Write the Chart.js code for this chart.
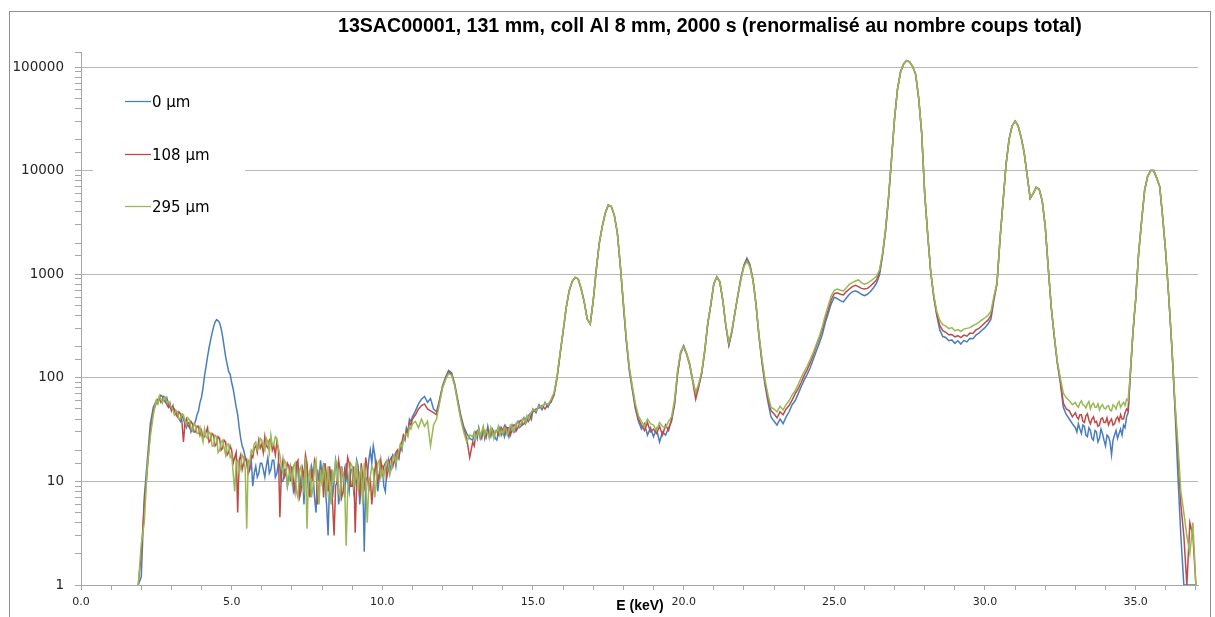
<!DOCTYPE html>
<html>
<head>
<meta charset="utf-8">
<script src="https://cdn.jsdelivr.net/npm/chart.js@4.4.0/dist/chart.umd.min.js"></script>
<style>
  html, body { margin: 0; padding: 0; background: #ffffff; }
  #wrap { width: 1215px; height: 617px; position: relative; }
</style>
</head>
<body>
<div id="wrap"><canvas id="c" width="1215" height="617"></canvas></div>
<script>
// ---- DATA ----
const chartTitle = '13SAC00001, 131 mm, coll Al 8 mm, 2000 s (renormalisé au nombre coups total)';
const xAxisTitle = 'E (keV)';
const seriesNames = ['0 µm', '108 µm', '295 µm'];

const energies = [
  1.9,
  2.0,2.1,2.2,2.3,2.4,2.5,2.55,2.6,2.65,2.7,2.75,2.8,2.85,2.9,2.95,
  3.0,3.05,3.1,3.15,3.2,3.25,3.3,3.35,3.4,3.45,3.5,3.55,3.6,3.65,3.7,3.75,3.8,3.85,3.9,3.95,
  4.0,4.05,4.1,4.15,4.2,4.25,4.3,4.35,4.4,4.45,4.5,4.55,4.6,4.65,4.7,4.75,4.8,4.85,4.9,4.95,
  5.0,5.05,5.1,5.15,5.2,5.25,5.3,5.35,5.4,5.45,5.5,5.55,5.6,5.65,5.7,5.75,5.8,5.85,5.9,5.95,
  6.0,6.05,6.1,6.15,6.2,6.25,6.3,6.35,6.4,6.45,6.5,6.55,6.6,6.65,6.7,6.75,6.8,6.85,6.9,6.95,
  7.0,7.05,7.1,7.15,7.2,7.25,7.3,7.35,7.4,7.45,7.5,7.55,7.6,7.65,7.7,7.75,7.8,7.85,7.9,7.95,
  8.0,8.05,8.1,8.15,8.2,8.25,8.3,8.35,8.4,8.45,8.5,8.55,8.6,8.65,8.7,8.75,8.8,8.85,8.9,8.95,
  9.0,9.05,9.1,9.15,9.2,9.25,9.3,9.35,9.4,9.45,9.5,9.55,9.6,9.65,9.7,9.75,9.8,9.85,9.9,9.95,
  10.0,10.05,10.1,10.15,10.2,10.25,10.3,10.35,10.4,10.45,10.5,10.55,10.6,10.65,10.7,10.75,10.8,10.85,10.9,10.95,
  11.0,11.1,11.2,11.3,11.4,11.5,11.6,11.7,11.8,11.9,
  12.0,12.1,12.2,12.3,12.4,12.5,12.6,12.7,12.8,12.9,
  13.0,13.05,13.1,13.15,13.2,13.25,13.3,13.35,13.4,13.45,13.5,13.55,13.6,13.65,13.7,13.75,13.8,13.85,13.9,13.95,
  14.0,14.05,14.1,14.15,14.2,14.25,14.3,14.35,14.4,14.45,14.5,14.55,14.6,14.65,14.7,14.75,14.8,14.85,14.9,14.95,
  15.0,15.1,15.2,15.3,15.4,15.5,15.6,15.7,15.8,15.9,
  16.0,16.1,16.2,16.3,16.4,16.5,16.6,16.7,16.8,16.9,
  17.0,17.1,17.2,17.3,17.4,17.5,17.6,17.7,17.8,17.9,
  18.0,18.1,18.2,18.3,18.4,18.5,18.6,18.7,18.8,18.9,
  19.0,19.1,19.2,19.3,19.4,19.5,19.6,19.7,19.8,19.9,
  20.0,20.1,20.2,20.3,20.4,20.5,20.6,20.7,20.8,20.9,
  21.0,21.1,21.2,21.3,21.4,21.5,21.6,21.7,21.8,21.9,
  22.0,22.1,22.2,22.3,22.4,22.5,22.6,22.7,22.8,22.9,
  23.0,23.1,23.2,23.3,23.4,23.5,23.6,23.7,23.8,23.9,
  24.0,24.1,24.2,24.3,24.4,24.5,24.6,24.7,24.8,24.9,
  25.0,25.1,25.2,25.3,25.4,25.5,25.6,25.7,25.8,25.9,
  26.0,26.1,26.2,26.3,26.4,26.5,26.6,26.7,26.8,26.9,
  27.0,27.1,27.2,27.3,27.4,27.5,27.6,27.7,27.8,27.9,
  28.0,28.1,28.2,28.3,28.4,28.5,28.6,28.7,28.8,28.9,
  29.0,29.1,29.2,29.3,29.4,29.5,29.6,29.7,29.8,29.9,
  30.0,30.1,30.2,30.3,30.4,30.5,30.6,30.7,30.8,30.9,
  31.0,31.1,31.2,31.3,31.4,31.5,31.6,31.7,31.8,31.9,
  32.0,32.1,32.2,32.3,32.4,32.5,32.6,32.7,32.8,32.9,
  33.0,33.05,33.1,33.15,33.2,33.25,33.3,33.35,33.4,33.45,33.5,33.55,33.6,33.65,33.7,33.75,33.8,33.85,33.9,33.95,
  34.0,34.05,34.1,34.15,34.2,34.25,34.3,34.35,34.4,34.45,34.5,34.55,34.6,34.65,34.7,34.75,34.8,34.85,34.9,34.95,
  35.0,35.1,35.2,35.3,35.4,35.5,35.6,35.7,35.8,35.9,
  36.0,36.1,36.2,36.3,36.4,36.5,36.6,36.7,36.8,36.9,
  37.0
];

const counts0um = [
  1,
  1.2,7,16,36,52,60,57,63,68,66,61,58,64,56,52,
  50,54,45,48,44,40,38,43,40,36,33,37,36,30,32,35,38,44,48,58,
  65,80,105,128,160,195,230,270,310,345,365,355,340,300,250,200,160,135,115,108,
  90,78,64,52,44,33,26,22,20,17,15,12,13,16,9,12,14,11,12,15,
  15,13,11,14,17,12,13,16,16,11,12,15,14,10,10,13,13,9,11,14,
  12,8,9,15,14,7,11,13,6,16,13,8,10,14,12,7,5,13,10,16,
  11,15,9,6,3,10,13,7,10,16,13,6,8,14,11,7,15,10,8,13,
  13,8,10,16,14,6,9,12,2.1,10,11,16,20,15,22,18,12,8,11,15,
  14,9,8,13,16,12,15,18,17,14,19,17,22,20,27,25,33,30,40,38,
  42,48,56,62,66,58,63,50,47,62,
  84,102,118,112,88,62,44,34,29,26,
  25,29,30,26,33,28,26,31,31,27,34,29,27,32,30,26,25,30,33,28,
  30,27,34,31,27,32,35,30,30,36,38,33,34,39,41,36,38,43,45,40,
  50,46,55,49,58,52,60,68,100,168,
  280,470,690,850,930,900,720,540,370,330,
  560,1100,2000,2900,3900,4650,4500,3700,2500,1200,
  500,220,115,75,50,38,32,36,28,33,
  27,32,24,30,28,33,38,55,110,172,
  205,172,138,96,70,84,110,180,330,500,
  800,945,850,555,315,205,275,420,630,920,
  1230,1430,1240,900,520,250,140,85,58,42,
  38,35,40,36,42,47,55,60,70,82,
  95,108,125,150,180,215,260,340,420,520,
  600,580,555,540,590,640,675,690,670,640,
  620,640,680,740,820,980,1500,2600,5400,13000,
  32000,62000,90000,107000,115000,112000,101000,85000,50000,23000,
  6000,2400,1050,600,400,290,250,245,228,232,
  215,228,212,230,222,240,238,258,270,288,
  305,330,370,570,810,2200,5000,11500,20000,27000,
  30000,27000,21000,15000,9000,5400,6000,6900,6600,5100,
  2900,1150,480,250,140,90,52,44,40,36,
  33,30,36,32,29,35,34,28,27,33,31,26,25,31,30,24,26,32,29,25,
  22,28,27,24,18,25,28,31,26,29,32,28,35,33,42,46,80,140,240,380,
  560,1600,3300,6500,8800,10000,10000,8500,7000,3500,
  1600,600,200,55,12,3,1,1,1,1,
  1
];

const counts108um = [
  1,
  2,6,13,30,48,57,62,64,58,60,66,63,55,52,57,
  48,52,50,44,42,47,45,38,24,36,40,35,33,38,36,30,30,34,34,28,
  31,26,27,30,33,24,25,29,28,22,23,27,26,20,21,25,24,18,19,22,
  20,15,17,19,5,16,18,13,15,17,16,12,13,18,17,21,22,19,25,21,
  23,19,27,22,21,25,26,20,22,18,24,20,4.5,12,16,11,12,15,14,10,
  14,10,8,15,16,7,8,13,11,18,15,9,7,13,10,16,14,6,9,13,
  13,7,15,11,8,14,10,6,3,9,10,16,13,7,8,13,11,17,15,9,
  9,14,3.2,10,13,7,15,11,9,17,13,8,11,6,9,13,15,10,12,16,
  12,14,15,11,13,16,17,14,16,19,20,17,21,24,28,26,31,29,37,35,
  40,44,50,54,56,50,48,46,44,60,
  82,98,114,108,86,60,42,32,26,17,
  24,22,28,31,31,26,29,33,26,30,32,28,29,31,27,30,31,28,30,33,
  31,34,29,33,33,28,31,35,35,31,33,38,39,35,36,40,42,38,40,44,
  47,50,51,54,50,56,58,70,102,172,
  280,470,690,850,930,900,720,540,370,330,
  560,1100,2000,2900,3900,4650,4500,3700,2500,1200,
  520,230,120,80,52,40,35,31,37,30,
  32,29,34,28,35,31,40,58,112,175,
  200,168,132,92,62,82,112,182,335,505,
  805,940,845,560,320,210,280,420,620,900,
  1200,1380,1200,880,515,255,145,90,63,48,
  45,41,47,44,50,54,61,70,78,90,
  105,120,140,165,200,240,290,370,460,570,
  650,660,640,630,680,720,760,780,760,730,
  720,730,770,820,880,1050,1550,2650,5500,13000,
  32000,62000,90000,107000,115000,112000,101000,85000,50000,23000,
  6000,2400,1050,610,415,320,285,275,260,262,
  248,255,244,258,252,270,268,290,300,318,
  340,360,400,590,820,2200,5000,11500,20000,27000,
  30000,27000,21000,15000,9000,5400,6000,6900,6600,5100,
  2900,1150,480,250,140,95,57,50,48,42,
  46,42,40,44,44,38,37,43,45,39,36,40,42,37,38,34,35,40,41,37,
  37,41,35,38,40,35,36,40,42,38,44,40,40,46,50,48,84,145,245,385,
  560,1600,3300,6500,8800,10000,10000,8500,7000,3500,
  1600,600,205,58,20,6,3,1,4,3,
  1
];

const counts295um = [
  1,
  2.5,4,14,27,44,61,56,67,62,57,64,65,58,59,55,
  52,49,44,48,47,40,40,45,44,38,35,41,39,33,31,36,35,29,29,33,
  28,24,32,27,26,30,29,22,22,28,27,19,20,24,25,21,18,23,23,17,
  18,12,8,15,16,12,14,18,17,13,3.5,16,15,20,19,23,24,20,21,26,
  25,22,20,26,24,19,28,22,23,27,26,21,18,14,12,16,15,9,10,13,
  10,14,15,8,7,13,14,9,8,17,3.5,11,13,7,9,14,16,9,6,13,
  9,14,12,7,14,9,6,13,10,16,15,8,7,13,12,9,2.4,8,12,15,
  14,9,11,16,8,12,13,6,15,10,4,9,11,14,13,7,10,15,16,11,
  13,11,14,16,15,12,13,17,18,15,17,20,23,21,25,28,29,27,34,32,
  36,38,33,40,34,38,22,35,40,57,
  80,96,110,106,84,58,40,30,24,28,
  27,30,26,29,32,27,30,34,28,31,29,26,33,30,26,31,30,34,28,31,
  29,33,32,28,31,35,34,30,33,37,37,34,36,40,40,37,43,40,44,47,
  49,48,53,52,57,55,62,72,104,175,
  280,470,690,850,930,900,720,540,370,330,
  560,1100,2000,2900,3900,4650,4500,3700,2500,1200,
  530,235,125,82,56,43,38,34,40,36,
  35,31,37,34,33,38,42,62,118,180,
  198,170,135,94,72,88,115,185,340,510,
  810,935,850,565,325,220,285,425,615,890,
  1180,1330,1180,870,520,262,152,96,68,52,
  50,47,53,49,55,60,68,75,86,100,
  115,130,150,175,210,250,310,400,500,620,
  700,720,700,690,740,800,830,860,880,830,
  800,820,860,900,960,1100,1600,2700,5600,13000,
  32000,62000,90000,107000,115000,112000,101000,85000,50000,23000,
  6000,2400,1060,630,440,360,325,315,298,305,
  285,292,280,295,300,305,318,330,345,362,
  380,400,440,620,830,2200,5000,11500,20000,27000,
  30000,27000,21000,15000,9000,5400,6000,6900,6600,5100,
  2900,1150,480,255,145,100,71,64,60,55,
  58,54,52,57,60,55,54,51,56,59,50,55,57,52,52,56,49,53,55,51,
  50,53,54,49,48,55,53,50,56,59,52,55,58,54,62,60,90,150,250,390,
  560,1600,3300,6500,8800,10000,10000,8500,7000,3500,
  1600,610,210,62,24,8,5,3,2,4,
  1
];

const xTickStep = 1;      // minor tick every 1 keV
const xLabelEvery = 5;    // labels every 5 keV
// ---- END DATA ----

const colors = ['#4a7ebb', '#be4b48', '#98b954'];
const allSeries = [counts0um, counts108um, counts295um];

function isDecade(v) {
  const l = Math.log10(v);
  return Math.abs(l - Math.round(l)) < 1e-9;
}

const decorPlugin = {
  id: 'decor',
  beforeDraw(chart) {
    const ctx = chart.ctx;
    ctx.save();
    ctx.fillStyle = '#ffffff';
    ctx.fillRect(0, 0, chart.width, chart.height);
    ctx.strokeStyle = '#8f8f8f';
    ctx.lineWidth = 1;
    ctx.strokeRect(9.5, 11.5, 1201, 612);
    ctx.restore();
  },
  afterDraw(chart) {
    const ctx = chart.ctx;
    ctx.save();
    // Title
    ctx.fillStyle = '#000000';
    ctx.font = 'bold 20px "Liberation Sans", Arial, sans-serif';
    const w = ctx.measureText(chartTitle).width;
    const size = 20 * 744 / w;
    ctx.font = 'bold ' + size.toFixed(2) + 'px "Liberation Sans", Arial, sans-serif';
    ctx.textAlign = 'left';
    ctx.textBaseline = 'alphabetic';
    ctx.fillText(chartTitle, 338, 32);

    // X axis title
    ctx.font = 'bold 14px "Liberation Sans", Arial, sans-serif';
    ctx.textAlign = 'center';
    ctx.fillText(xAxisTitle, 640, 610);

    // Legend box
    ctx.fillStyle = '#ffffff';
    ctx.fillRect(93, 80, 152, 145);
    const ys = [101, 154, 206];
    ctx.font = '15px "DejaVu Sans", sans-serif';
    ctx.textAlign = 'left';
    for (let i = 0; i < 3; i++) {
      ctx.strokeStyle = colors[i];
      ctx.lineWidth = 1.3;
      ctx.beginPath();
      ctx.moveTo(125, ys[i] + 0.5);
      ctx.lineTo(151, ys[i] + 0.5);
      ctx.stroke();
      ctx.fillStyle = '#000000';
      ctx.fillText(seriesNames[i], 152, ys[i] + 5.5);
    }
    ctx.restore();
  }
};

const datasets = allSeries.map((s, i) => ({
  label: seriesNames[i],
  data: energies.map((e, k) => ({ x: e, y: s[k] })),
  borderColor: colors[i],
  borderWidth: 1.5,
  pointRadius: 0,
  tension: 0,
  fill: false,
  order: 2 - i
}));

new Chart(document.getElementById('c'), {
  type: 'line',
  data: { datasets },
  plugins: [decorPlugin],
  options: {
    responsive: false,
    animation: false,
    events: [],
    layout: { padding: { left: 0, right: 17, top: 52, bottom: 0 } },
    plugins: {
      legend: { display: false },
      title: { display: false },
      tooltip: { enabled: false }
    },
    scales: {
      x: {
        type: 'linear',
        min: 0,
        max: 37.07,
        afterFit(scale) { scale.height = 32; },
        grid: {
          drawOnChartArea: false,
          drawTicks: true,
          tickLength: 5,
          color: '#a6a6a6'
        },
        border: { display: true, color: '#a6a6a6', width: 1 },
        ticks: {
          stepSize: xTickStep,
          includeBounds: false,
          autoSkip: false,
          maxRotation: 0,
          padding: 6,
          color: '#262626',
          font: { family: '"DejaVu Sans", sans-serif', size: 11 },
          callback(v) {
            return (Math.abs(v % xLabelEvery) < 1e-9) ? Number(v).toFixed(1) : '';
          }
        }
      },
      y: {
        type: 'logarithmic',
        min: 1,
        max: 139600,
        afterFit(scale) { scale.width = 81; },
        grid: {
          drawOnChartArea: true,
          drawTicks: true,
          tickLength: 6,
          lineWidth: 1,
          color(ctx) {
            if (!ctx.tick) return 'rgba(0,0,0,0)';
            return isDecade(ctx.tick.value) ? '#b8b8b8' : 'rgba(0,0,0,0)';
          },
          tickColor: '#a6a6a6'
        },
        border: { display: true, color: '#a6a6a6', width: 1 },
        ticks: {
          autoSkip: false,
          padding: 11,
          color: '#262626',
          font: { family: '"DejaVu Sans", sans-serif', size: 13.5 },
          callback(v) {
            return isDecade(v) ? String(Math.round(v)) : '';
          }
        }
      }
    }
  }
});
</script>
</body>
</html>
